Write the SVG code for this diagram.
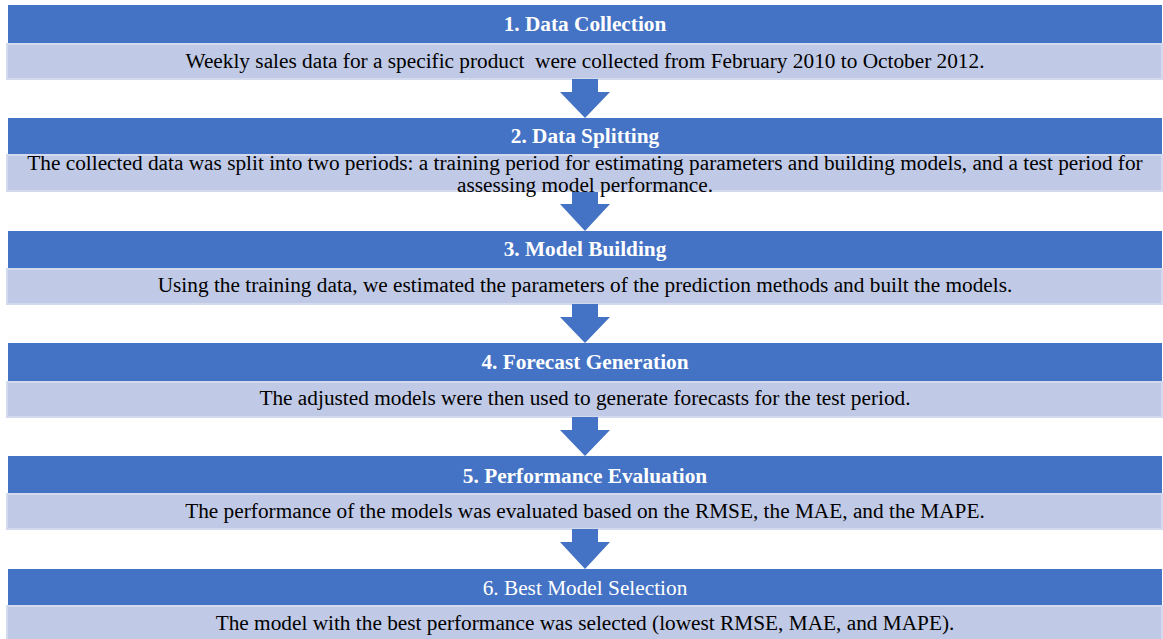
<svg xmlns="http://www.w3.org/2000/svg" width="1163" height="639" viewBox="0 0 1163 639">
<style>
.hd{fill:#4472C4}
.bd{fill:#C0CAE6;stroke:#D3DAEE;stroke-width:2}
text{font-family:'Liberation Serif','Times New Roman',serif;font-size:21.3px;text-anchor:middle}
.ht{font-weight:bold;fill:#FFFFFF}
.hn{fill:#FFFFFF}
.bt{fill:#000000}
.ar{fill:#4472C4}
</style>
<rect width="1163" height="639" fill="#FFFFFF"/>
<g id="step1">
<rect class="hd" x="8" y="5" width="1154" height="38"/>
<rect class="bd" x="7" y="44" width="1155" height="35"/>
<text class="ht" x="585" y="31">1. Data Collection</text>
<text class="bt" x="585" y="68" xml:space="preserve">Weekly sales data for a specific product  were collected from February 2010 to October 2012.</text>
</g>
<g id="step2">
<rect class="hd" x="8" y="118" width="1154" height="36"/>
<rect class="bd" x="7" y="155" width="1155" height="36"/>
<text class="ht" x="585" y="143">2. Data Splitting</text>
<text class="bt" x="585" y="170">The collected data was split into two periods: a training period for estimating parameters and building models, and a test period for</text>
<text class="bt" x="585" y="192">assessing model performance.</text>
</g>
<g id="step3">
<rect class="hd" x="8" y="231" width="1154" height="37"/>
<rect class="bd" x="7" y="269" width="1155" height="35"/>
<text class="ht" x="585" y="256">3. Model Building</text>
<text class="bt" x="585" y="292">Using the training data, we estimated the parameters of the prediction methods and built the models.</text>
</g>
<g id="step4">
<rect class="hd" x="8" y="343" width="1154" height="38"/>
<rect class="bd" x="7" y="382" width="1155" height="35"/>
<text class="ht" x="585" y="369">4. Forecast Generation</text>
<text class="bt" x="585" y="405">The adjusted models were then used to generate forecasts for the test period.</text>
</g>
<g id="step5">
<rect class="hd" x="8" y="456" width="1154" height="37"/>
<rect class="bd" x="7" y="494" width="1155" height="35"/>
<text class="ht" x="585" y="483">5. Performance Evaluation</text>
<text class="bt" x="585" y="518">The performance of the models was evaluated based on the RMSE, the MAE, and the MAPE.</text>
</g>
<g id="step6">
<rect class="hd" x="8" y="569" width="1154" height="36"/>
<rect class="bd" x="7" y="606" width="1155" height="34"/>
<text class="hn" x="585" y="595">6. Best Model Selection</text>
<text class="bt" x="585" y="630">The model with the best performance was selected (lowest RMSE, MAE, and MAPE).</text>
</g>
<g id="connectors">
<polygon class="ar" points="572,79 598,79 598,92 610,92 585,118 560,92 572,92"/>
<polygon class="ar" points="572,192 598,192 598,204 610,204 585,231 560,204 572,204"/>
<polygon class="ar" points="572,304 598,304 598,317 610,317 585,343 560,317 572,317"/>
<polygon class="ar" points="572,417 598,417 598,430 610,430 585,456 560,430 572,430"/>
<polygon class="ar" points="572,529 598,529 598,542 610,542 585,569 560,542 572,542"/>
</g>
</svg>
